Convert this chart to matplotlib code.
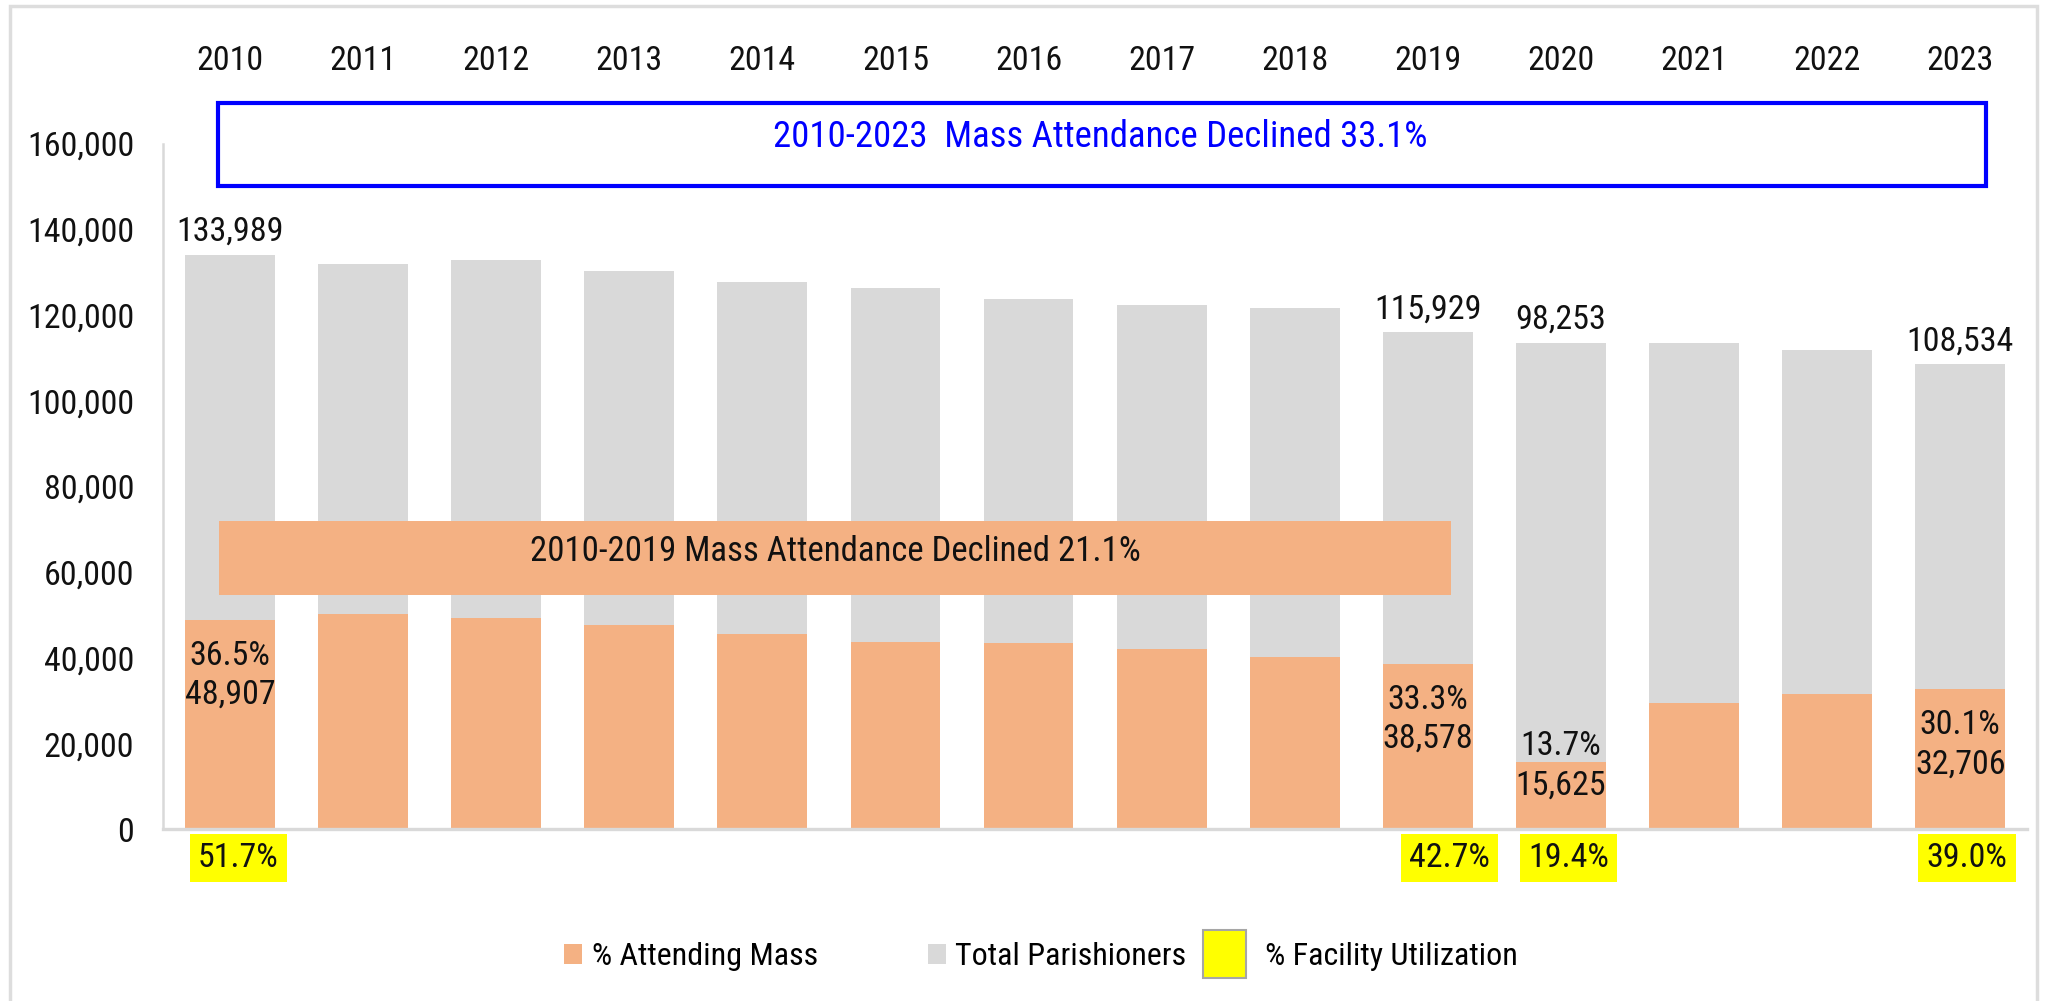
import matplotlib
matplotlib.use("Agg")
import matplotlib.pyplot as plt
from matplotlib import font_manager
from matplotlib.patches import Rectangle, Patch
from matplotlib.legend_handler import HandlerPatch
import numpy as np

# data
years = [2010, 2011, 2012, 2013, 2014, 2015, 2016, 2017, 2018, 2019, 2020, 2021, 2022, 2023]
total_parishioners = [133989, 131800, 132800, 130300, 127760, 126240, 123820, 122300, 121550,
                      115929, 113460, 113460, 111830, 108534]
attending_mass = [48907, 50170, 49390, 47600, 45650, 43810, 43500, 41990, 40170,
                  38578, 15625, 29410, 31510, 32706]
total_labels = ["133,989", "", "", "", "", "", "", "", "", "115,929", "98,253", "", "", "108,534"]
pct_attending = ["36.5%", "", "", "", "", "", "", "", "", "33.3%", "13.7%", "", "", "30.1%"]
attend_labels = ["48,907", "", "", "", "", "", "", "", "", "38,578", "15,625", "", "", "32,706"]
facility_util = ["51.7%", "", "", "", "", "", "", "", "", "42.7%", "19.4%", "", "", "39.0%"]

ORANGE = "#F4B183"
GRAY = "#D9D9D9"

names = {f.name for f in font_manager.fontManager.ttflist}
fam = "Roboto Condensed" if "Roboto Condensed" in names else "Roboto"
plt.rcParams["font.family"] = [fam, "DejaVu Sans"]
fs = 24.5 if fam == "Roboto Condensed" else 21

fig = plt.figure(figsize=(20.45, 10.01), dpi=100)
ax = fig.add_axes([0.0799, 0.1714, 0.9112, 0.6852])

x = np.arange(len(years))
w = 0.675
ax.bar(x, total_parishioners, width=w, color=GRAY, zorder=2, label="Total Parishioners")
ax.bar(x, attending_mass, width=w, color=ORANGE, zorder=3, label="% Attending Mass")

ax.set_xlim(-0.5, 13.5)
ax.set_ylim(0, 160000)
ax.set_yticks(np.arange(0, 160001, 20000))
ax.set_yticklabels([f"{v:,}" for v in range(0, 160001, 20000)], fontsize=fs, color="#111111")
ax.tick_params(axis="y", length=0, pad=21)
ax.set_xticks([])
for s in ["top", "right"]:
    ax.spines[s].set_visible(False)
ax.spines["left"].set_color(GRAY)
ax.spines["left"].set_linewidth(1.8)
ax.spines["bottom"].set_color(GRAY)
ax.spines["bottom"].set_linewidth(2.4)
ax.spines["bottom"].set_zorder(5)

# year labels across the top
for i, yr in enumerate(years):
    ax.text(i, 179200, str(yr), ha="center", va="center", fontsize=fs, color="#111111", clip_on=False)

# labels above the gray bars
for i, lab in enumerate(total_labels):
    if lab:
        ax.annotate(lab, (i, total_parishioners[i]), xytext=(0, 16.5), textcoords="offset points",
                    ha="center", va="center", fontsize=fs, color="#111111", zorder=6)

# percent / count labels on the orange bars
for i in range(len(years)):
    if not pct_attending[i]:
        continue
    off1, off2 = -26, -54
    if i == 10:
        off1, off2 = 11.5, -17
    ax.annotate(pct_attending[i], (i, attending_mass[i]), xytext=(0, off1), textcoords="offset points",
                ha="center", va="center", fontsize=fs, color="#111111", zorder=6)
    ax.annotate(attend_labels[i], (i, attending_mass[i]), xytext=(0, off2), textcoords="offset points",
                ha="center", va="center", fontsize=fs, color="#111111", zorder=6)

# facility utilization boxes under the axis
dx = {0: 6, 9: 15.5, 10: 5.4, 13: 4.8}
for i, lab in enumerate(facility_util):
    if lab:
        ax.annotate(lab, (i, 0), xytext=(dx[i], -20.6), textcoords="offset points",
                    ha="center", va="center", fontsize=fs, color="#111111", annotation_clip=False,
                    bbox=dict(boxstyle="square,pad=0.24", facecolor="#FFFF00", edgecolor="none"))

# 2010-2019 band
ax.add_patch(Rectangle((-0.079, 54680), 9.254, 17260, facecolor=ORANGE, edgecolor="none", zorder=4))
ax.text(4.547, 64770, "2010-2019 Mass Attendance Declined 21.1%", ha="center", va="center",
        fontsize=fs + 0.5, color="#111111", zorder=5)

# 2010-2023 blue box
ax.add_patch(Rectangle((-0.09, 150000), 13.28, 19380, facecolor="none", edgecolor="#0000FF",
                       linewidth=3, zorder=5, clip_on=False))
ax.text(6.54, 161600, "2010-2023  Mass Attendance Declined 33.1%", ha="center", va="center",
        fontsize=fs + 2, color="#0000FF", zorder=6, clip_on=False)


class BigBox(HandlerPatch):
    def create_artists(self, legend, orig_handle, xdescent, ydescent, width, height, fontsize, trans):
        bw, bh = width * 2.4, height * 2.5
        cx, cy = -xdescent + width / 2, -ydescent + height / 2
        p = Rectangle((cx - bw / 2, cy - bh / 2), bw, bh, facecolor="#FFFF00",
                      edgecolor="#A6A6A6", linewidth=1.5, transform=trans)
        return [p]


handles = [Patch(facecolor=ORANGE, edgecolor="none"),
           Patch(facecolor=GRAY, edgecolor="none"),
           Patch(facecolor="#FFFF00", edgecolor="#A6A6A6")]
labels = ["% Attending Mass" + "\u00a0" * 11, "Total Parishioners", "   % Facility Utilization"]
fig.legend(handles, labels, loc="center", bbox_to_anchor=(0.509, 0.044), ncol=3, frameon=False,
           fontsize=23, handlelength=0.56, handleheight=0.56, handletextpad=0.3,
           columnspacing=0.9, handler_map={handles[2]: BigBox()})

# light outer frame of the slide chart
fig.patches.append(Rectangle((10 / 2045, -0.05), 2027 / 2045, 1.05 - 6 / 1001, transform=fig.transFigure,
                             facecolor="none", edgecolor="#DDDDDD", linewidth=2.5))

fig.savefig("out.png", dpi=100)
